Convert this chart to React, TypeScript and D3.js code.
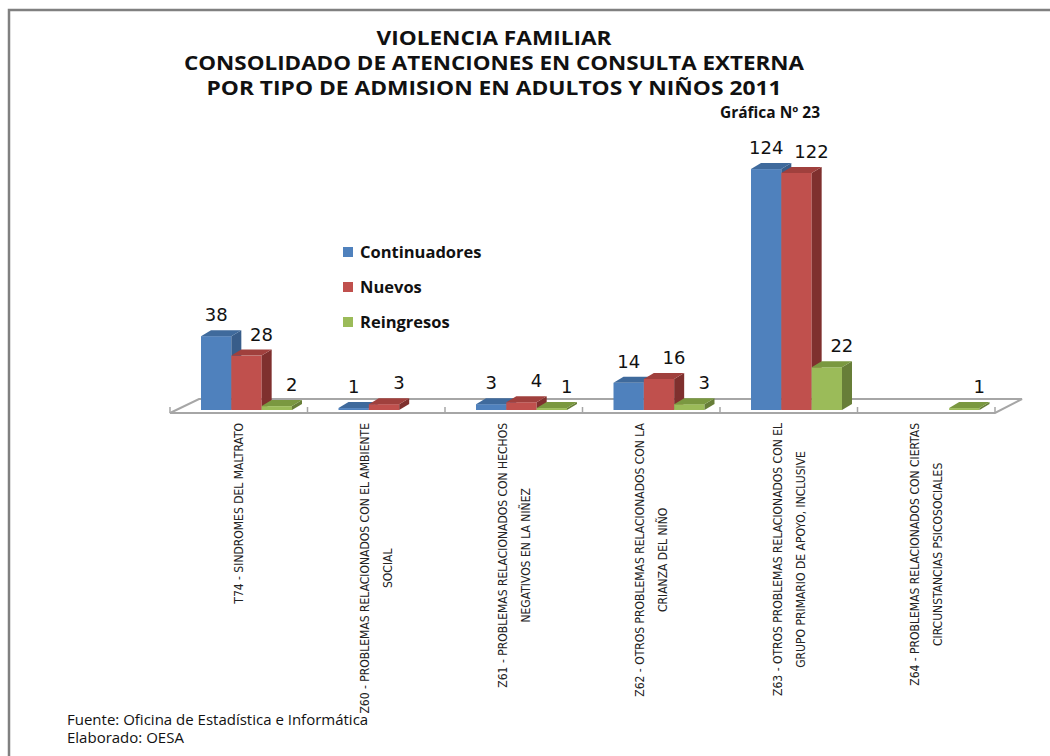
import React, { useEffect, useRef } from 'react';
import * as d3 from 'd3';

const titleLines = [
  'VIOLENCIA FAMILIAR',
  'CONSOLIDADO DE ATENCIONES EN CONSULTA EXTERNA',
  'POR TIPO DE ADMISION EN ADULTOS Y NIÑOS 2011',
];
const subtitle = 'Gráfica Nº 23';

const categories = [
  ['T74 - SINDROMES DEL MALTRATO'],
  ['Z60 - PROBLEMAS RELACIONADOS CON EL AMBIENTE', 'SOCIAL'],
  ['Z61 - PROBLEMAS RELACIONADOS CON HECHOS', 'NEGATIVOS EN LA NIÑEZ'],
  ['Z62 - OTROS PROBLEMAS RELACIONADOS CON LA', 'CRIANZA DEL NIÑO'],
  ['Z63 - OTROS PROBLEMAS RELACIONADOS CON EL', 'GRUPO PRIMARIO DE APOYO, INCLUSIVE'],
  ['Z64 - PROBLEMAS RELACIONADOS CON CIERTAS', 'CIRCUNSTANCIAS PSICOSOCIALES'],
];

const seriesNames = ['Continuadores', 'Nuevos', 'Reingresos'];
const continuadores = [38, 1, 3, 14, 124, null];
const nuevos = [28, 3, 4, 16, 122, null];
const reingresos = [2, null, 1, 3, 22, 1];

const footer = ['Fuente: Oficina de Estadística e Informática', 'Elaborado: OESA'];

// front / side / top shades for each series
const colors = [
  { front: '#4F81BD', side: '#385D8A', top: '#3F6A9C' },
  { front: '#C0504D', side: '#7F302E', top: '#A0403D' },
  { front: '#9BBB59', side: '#677E38', top: '#7A9840' },
];

function App() {
  const ref = useRef<SVGSVGElement>(null);

  useEffect(() => {
    const svg = d3.select(ref.current);
    svg.selectAll('*').remove();

    const values = [continuadores, nuevos, reingresos];
    const floorY = 413;
    const baseY = 410;
    const dx = 10, dy = 6;

    const x = d3.scaleBand<number>()
      .domain(categories.map((_, i) => i))
      .range([170, 995]);
    const xs = d3.scaleBand<string>()
      .domain(seriesNames)
      .range([31, 122]);
    const y = d3.scaleLinear().domain([0, 140]).range([baseY, 138]);

    // frame
    svg.append('path')
      .attr('d', 'M9,756 L9,10 L1050,10')
      .attr('fill', 'none')
      .attr('stroke', '#808080')
      .attr('stroke-width', 2.5);

    // titles (condensed to the widths of the original)
    const titleFont = "'Open Sans', sans-serif";
    const titleWidths = [235, 620, 575];
    titleLines.forEach((t, i) => {
      svg.append('text')
        .attr('x', 494)
        .attr('y', 45 + i * 25)
        .attr('text-anchor', 'middle')
        .attr('textLength', titleWidths[i])
        .attr('lengthAdjust', 'spacingAndGlyphs')
        .style('font-family', titleFont)
        .style('font-weight', 'bold')
        .style('font-size', '19px')
        .attr('fill', '#111')
        .text(t);
    });
    svg.append('text')
      .attr('x', 770)
      .attr('y', 118)
      .attr('text-anchor', 'middle')
      .style('font-family', titleFont)
      .style('font-weight', 'bold')
      .style('font-size', '15.5px')
      .attr('fill', '#111')
      .text(subtitle);

    // floor
    const x0 = x.range()[0], x1 = x.range()[1];
    svg.append('path')
      .attr('d', `M${x0},${floorY} L${x1},${floorY} L${x1 + 27},${floorY - 14} L${x0 + 29},${floorY - 14} Z`)
      .attr('fill', 'none')
      .attr('stroke', '#a6a6a6')
      .attr('stroke-width', 2);
    svg.selectAll('.tick')
      .data(categories.map((_, i) => i).concat([categories.length]))
      .join('line')
      .attr('x1', d => x0 + d * x.bandwidth())
      .attr('x2', d => x0 + d * x.bandwidth())
      .attr('y1', floorY)
      .attr('y2', floorY - 6)
      .attr('stroke', '#a6a6a6')
      .attr('stroke-width', 1.5);

    // bars, drawn left to right so the next front face hides the side
    const labelShift = [0, 15, 15];
    categories.forEach((_, ci) => {
      seriesNames.forEach((s, si) => {
        const v = values[si][ci];
        if (v == null) return;
        const bx = (x(ci) as number) + (xs(s) as number);
        const w = xs.bandwidth();
        const top = y(v);
        const c = colors[si];
        const g = svg.append('g');
        g.append('rect')
          .attr('x', bx).attr('y', top)
          .attr('width', w).attr('height', baseY - top)
          .attr('fill', c.front);
        g.append('path')
          .attr('d', `M${bx + w},${top} L${bx + w + dx},${top - dy} L${bx + w + dx},${baseY - dy} L${bx + w},${baseY} Z`)
          .attr('fill', c.side);
        g.append('path')
          .attr('d', `M${bx},${top} L${bx + dx},${top - dy} L${bx + w + dx},${top - dy} L${bx + w},${top} Z`)
          .attr('fill', c.top);
        svg.append('text')
          .attr('x', bx + w / 2 + labelShift[si])
          .attr('y', top - dy - 9)
          .attr('text-anchor', 'middle')
          .style('font-family', "'DejaVu Sans', Verdana, sans-serif")
          .style('font-size', '18px')
          .attr('fill', '#111')
          .text(v);
      });
    });

    // rotated category labels
    const catFont = "'Liberation Sans Narrow', 'DejaVu Sans Condensed', 'Liberation Sans', sans-serif";
    categories.forEach((lines, ci) => {
      const cx = (x(ci) as number) + x.bandwidth() / 2;
      const g = svg.append('g').attr('transform', `translate(${cx},423) rotate(-90)`);
      const texts = lines.map((l, k) =>
        g.append('text')
          .attr('y', (k - (lines.length - 1) / 2) * 23 + 4.5)
          .attr('text-anchor', 'middle')
          .style('font-family', catFont)
          .style('font-size', '12px')
          .attr('fill', '#222')
          .text(l)
      );
      const L = d3.max(texts, t => (t.node() as SVGTextElement).getComputedTextLength()) || 0;
      texts.forEach(t => t.attr('x', -L / 2));
    });

    // legend
    const legend = svg.append('g').attr('transform', 'translate(343,252)');
    seriesNames.forEach((s, i) => {
      legend.append('rect')
        .attr('x', 0).attr('y', i * 35 - 5)
        .attr('width', 10).attr('height', 10)
        .attr('fill', colors[i].front);
      legend.append('text')
        .attr('x', 17).attr('y', i * 35 + 5.5)
        .style('font-family', "'Open Sans', sans-serif")
        .style('font-weight', 'bold')
        .style('font-size', '16.5px')
        .attr('fill', '#111')
        .text(s);
    });

    // footer
    footer.forEach((f, i) => {
      svg.append('text')
        .attr('x', 67).attr('y', 725 + i * 18)
        .style('font-family', "'Open Sans', sans-serif")
        .style('font-size', '15px')
        .attr('fill', '#111')
        .text(f);
    });
  }, []);

  return (
    <svg
      ref={ref}
      width={1050}
      height={756}
      style={{ position: 'absolute', left: 0, top: 0, background: '#fff' }}
    />
  );
}

export default App;
